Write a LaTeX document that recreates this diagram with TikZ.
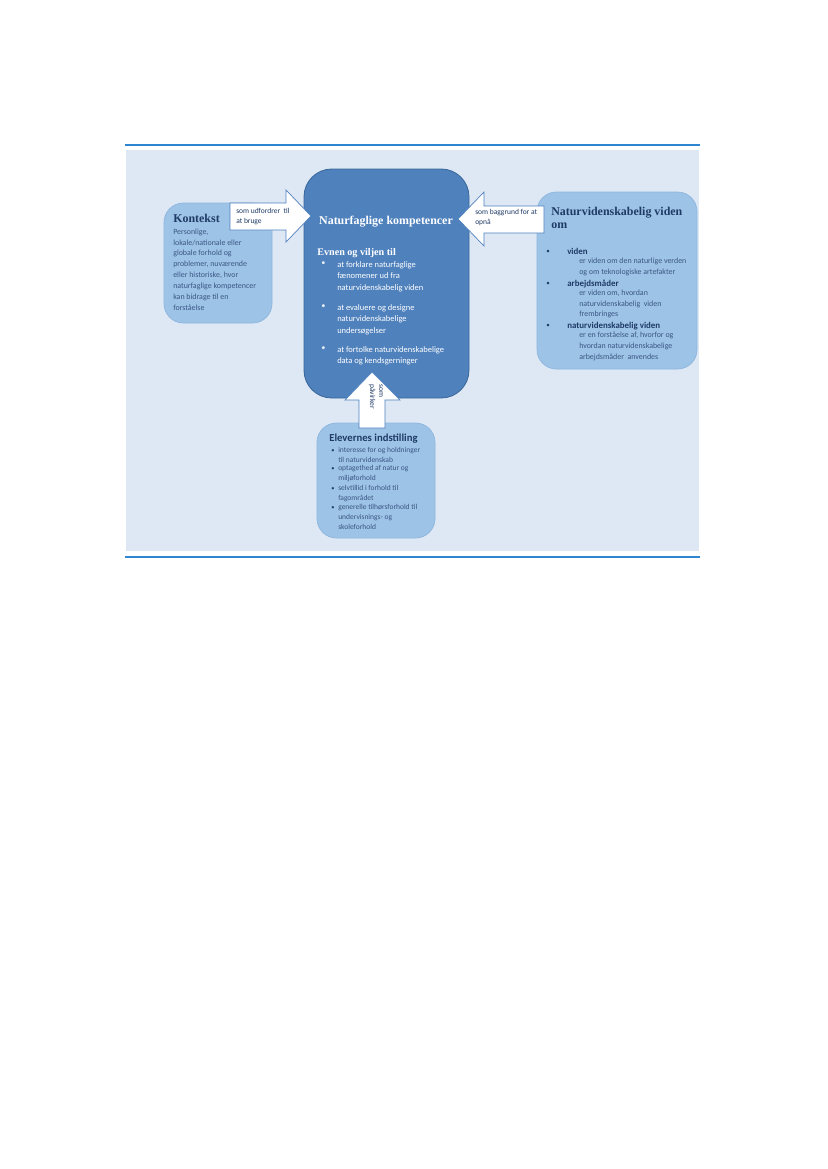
\documentclass[tikz,border=0pt]{standalone}
\usepackage{fontspec}
\setmainfont{Carlito}
\newfontfamily\headfont{Liberation Serif}
\usepackage{tikz}
\usetikzlibrary{positioning}

\definecolor{rulecol}{HTML}{2E86D0}
\definecolor{bgblue}{HTML}{DDE8F4}
\definecolor{lightfill}{HTML}{9DC3E6}
\definecolor{lightedge}{HTML}{8CB5DF}
\definecolor{darkfill}{HTML}{4F81BD}
\definecolor{darkedge}{HTML}{3A679B}
\definecolor{navy}{HTML}{1F3A66}
\definecolor{bodytxt}{HTML}{3A5684}

\begin{document}
\begin{tikzpicture}[x=0.72pt, y=-0.72pt,
    lightbox/.style={fill=lightfill, draw=lightedge, line width=0.5pt, rounded corners=14pt},
    darkbox/.style={fill=darkfill, draw=darkedge, line width=0.6pt, rounded corners=20pt},
    blockarrow/.style={fill=white, draw=darkfill, line width=0.5pt},
    txt/.style={inner sep=0pt, align=left},
    headtxt/.style={inner sep=0pt, font=\headfont\bfseries\fontsize{8.6pt}{10pt}\selectfont},
    arrowtxt/.style={txt, text=navy, font=\fontsize{5.4pt}{6.5pt}\selectfont}]
    % Page
    \useasboundingbox (0,0) rectangle (827,1169);
    \fill[white] (0,0) rectangle (827,1169);

    % Background and rules
    \fill[bgblue] (126,150) rectangle (699,551);
    \draw[rulecol, line width=2pt] (125,145) -- (700,145);
    \draw[rulecol, line width=2pt] (125,557) -- (700,557);

    % Boxes
    \draw[lightbox] (164,203) rectangle (272,323);
    \draw[lightbox] (537,192) rectangle (697,369);
    \draw[lightbox] (317,423) rectangle (435,538);
    \draw[darkbox] (304,169) rectangle (469,398);

    % Kontekst
    \node[headtxt, text=navy, anchor=base west] (kontekst) at (173,222) {Kontekst};
    \node[txt, text=bodytxt, anchor=north west, font=\fontsize{5.7pt}{7.8pt}\selectfont] (kontekstbody) at (173,228.5)
        {Personlige,\\ lokale/nationale eller\\ globale forhold og\\ problemer,\ nuværende\\ eller historiske, hvor\\ naturfaglige kompetencer\\ kan bidrage til en\\ forståelse};

    % Naturfaglige kompetencer
    \node[headtxt, text=white, anchor=base] (kompetencer) at (386,224) {Naturfaglige kompetencer};
    \node[headtxt, text=white, anchor=base west, font=\headfont\bfseries\fontsize{7.3pt}{8pt}\selectfont] (evnen) at (317,255) {Evnen og viljen til};
    \foreach \y/\name/\t in {261/forklare/{at forklare naturfaglige\\ fænomener ud fra\\ naturvidenskabelig viden},
                          304/evaluere/{at evaluere og designe\\ naturvidenskabelige\\ undersøgelser},
                          346/fortolke/{at fortolke naturvidenskabelige\\ data og kendsgerninger}} {
        \node[txt, text=white!85!darkfill, anchor=north west, font=\fontsize{6pt}{8.4pt}\selectfont] (dot\name) at (321,\y) {•};
        \node[txt, text=white, anchor=north west, font=\fontsize{6.1pt}{8.4pt}\selectfont] (\name) at (337,\y) {\t};
    }

    % Naturvidenskabelig viden om
    \node[headtxt, text=navy, anchor=north west, align=left] (videnom) at (551,206.5) {Naturvidenskabelig viden\\ om};
    \foreach \y/\name/\l/\t in {254/viden/viden/{er viden om den naturlige verden\\ og om teknologiske artefakter},
                             286/arbejde/arbejdsmåder/{er viden om, hvordan\\ naturvidenskabelig\ \ viden\\ frembringes},
                             328/natvid/naturvidenskabelig viden/{er en forståelse af, hvorfor og\\ hvordan naturvidenskabelige\\ arbejdsmåder\ \ anvendes}} {
        \node[txt, text=navy, anchor=base west, font=\fontsize{5pt}{7pt}\selectfont] (dot\name) at (546,\y-0.5) {•};
        \node[txt, text=navy, anchor=base west, font=\bfseries\fontsize{6.4pt}{7pt}\selectfont] (\name) at (567,\y) {\l};
        \node[txt, text=bodytxt, anchor=north west, font=\fontsize{5.7pt}{7.6pt}\selectfont] (\name sub) at (579,\y+4) {\t};
    }

    % Elevernes indstilling
    \node[txt, text=navy, anchor=base west, font=\bfseries\fontsize{7.7pt}{8pt}\selectfont] (indstilling) at (329,441) {Elevernes indstilling};
    \foreach \y/\name/\t in {452/interesse/{interesse for og holdninger\\ til naturvidenskab},
                          470/optagethed/{optagethed af natur og\\ miljøforhold},
                          490/selvtillid/{selvtillid i forhold til\\ fagområdet},
                          509/tilhoer/{generelle tilhørsforhold til\\ undervisnings-\ og\\ skoleforhold}} {
        \node[txt, text=navy, anchor=base west, font=\fontsize{4.6pt}{6.9pt}\selectfont] (dot\name) at (331,\y) {•};
        \node[txt, text=bodytxt, anchor=north west, font=\fontsize{5.4pt}{6.9pt}\selectfont] (\name) at (338,\y-4.5) {\t};
    }

    % Arrow from Kontekst
    \draw[blockarrow] (230,203) -- (286,203) -- (286,190) -- (311,216) -- (286,242) -- (286,230) -- (230,230) -- cycle;
    \node[arrowtxt, anchor=north west] (udfordrer) at (236,208.5) {som udfordrer\ \ til\\ at bruge};

    % Arrow from viden
    \draw[blockarrow] (458,219) -- (484,192) -- (484,206) -- (544,206) -- (544,233) -- (484,233) -- (484,246) -- cycle;
    \node[arrowtxt, anchor=north west] (baggrund) at (475,209.5) {som baggrund\ for at\\ opnå};

    % Arrow from indstilling
    \draw[blockarrow] (372,372) -- (400,400) -- (385,400) -- (385,428) -- (359,428) -- (359,400) -- (345,400) -- cycle;
    \node[arrowtxt, anchor=north west, rotate=-90] (paavirker) at (383,384) {som\\ påvirker};
\end{tikzpicture}
\end{document}
